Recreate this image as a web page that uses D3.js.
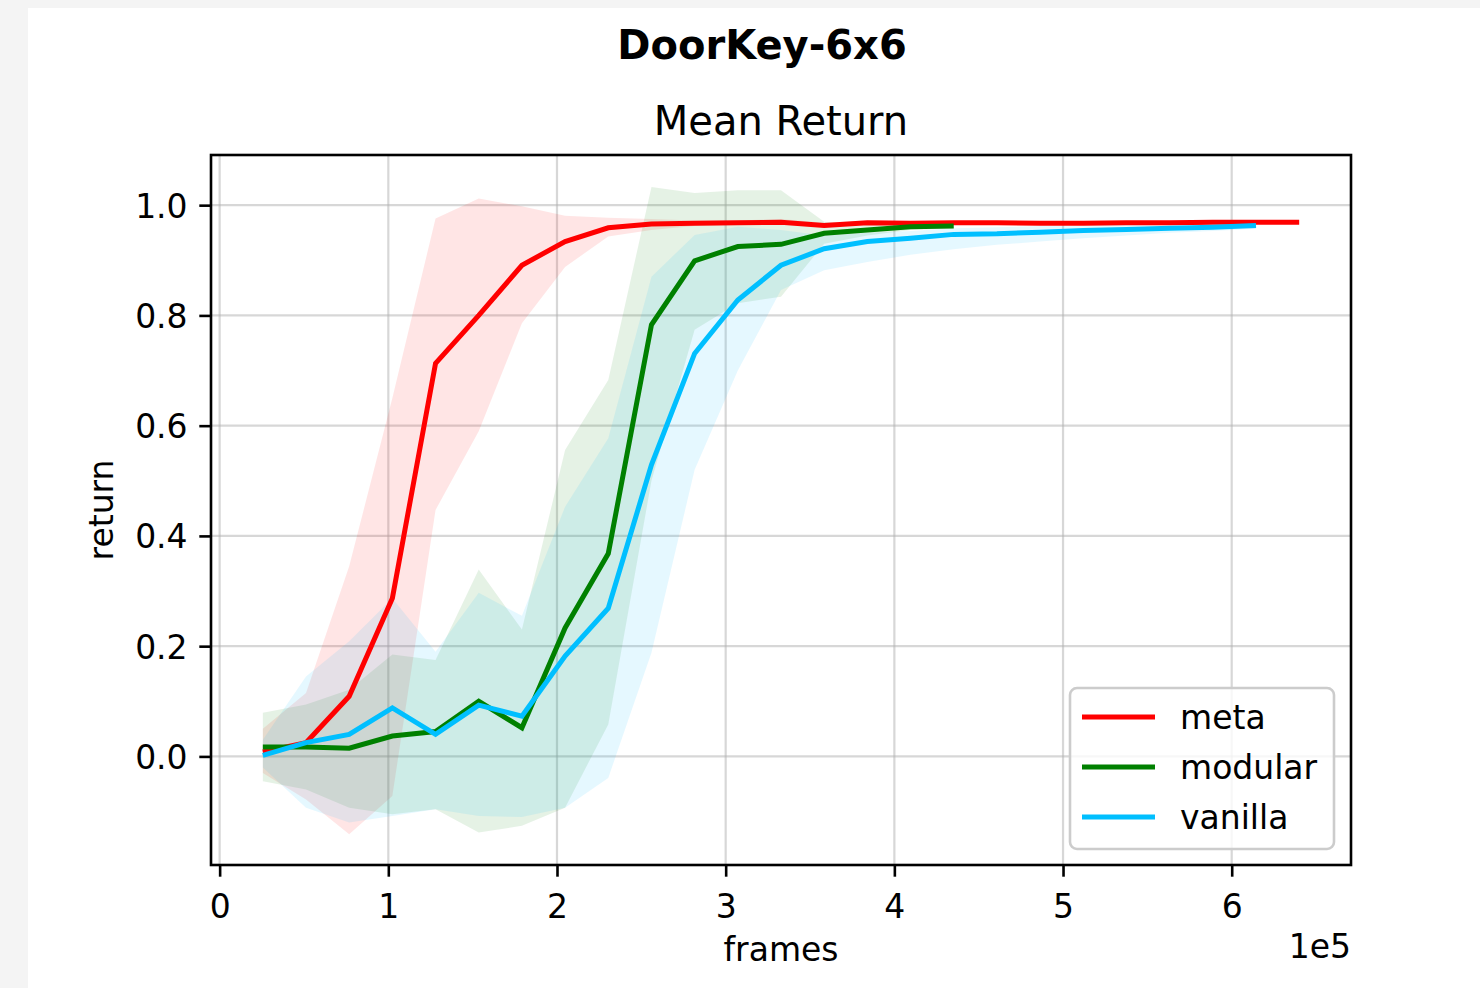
<!DOCTYPE html>
<html>
<head>
<meta charset="utf-8">
<script src="https://cdn.jsdelivr.net/npm/d3@7"></script>
<style>
  html, body { margin: 0; padding: 0; background: #f4f4f4; }
  svg { display: block; }
  text { font-family: "DejaVu Sans", sans-serif; fill: #000; }
</style>
</head>
<body>
<svg id="chart" width="1480" height="988"></svg>
<script>
// ---------- data ----------
const seriesNames = ["meta", "modular", "vanilla"];
const seriesColors = ["#ff0000", "#008000", "#00bfff"];
const frameStep = 25600;

const metaMean = [0.008, 0.025, 0.109, 0.287, 0.713, 0.800, 0.891, 0.934, 0.959, 0.966, 0.967, 0.968, 0.969, 0.963, 0.968, 0.967, 0.968, 0.968, 0.967, 0.967, 0.968, 0.968, 0.969, 0.969, 0.969];
const metaLower = [-0.030, -0.078, -0.141, -0.072, 0.447, 0.590, 0.786, 0.888, 0.943, 0.955, 0.962, 0.964, 0.965, 0.960, 0.965, 0.964, 0.965, 0.965, 0.964, 0.964, 0.965, 0.965, 0.966, 0.966, 0.966];
const metaUpper = [0.050, 0.115, 0.345, 0.650, 0.976, 1.012, 0.998, 0.981, 0.977, 0.975, 0.972, 0.972, 0.975, 0.968, 0.972, 0.971, 0.971, 0.971, 0.970, 0.970, 0.971, 0.971, 0.972, 0.972, 0.972];

const modularMean = [0.017, 0.017, 0.015, 0.037, 0.045, 0.100, 0.052, 0.233, 0.368, 0.783, 0.899, 0.925, 0.929, 0.949, 0.955, 0.961, 0.962];
const modularLower = [-0.045, -0.060, -0.093, -0.105, -0.096, -0.138, -0.126, -0.093, 0.058, 0.500, 0.774, 0.822, 0.834, 0.930, 0.945, 0.955, 0.958];
const modularUpper = [0.079, 0.094, 0.121, 0.185, 0.175, 0.339, 0.230, 0.556, 0.683, 1.033, 1.022, 1.027, 1.027, 0.970, 0.965, 0.966, 0.966];

const vanillaMean = [0.002, 0.025, 0.040, 0.088, 0.040, 0.093, 0.073, 0.182, 0.269, 0.529, 0.731, 0.828, 0.891, 0.921, 0.934, 0.940, 0.947, 0.948, 0.951, 0.954, 0.956, 0.958, 0.960, 0.963];
const vanillaLower = [-0.020, -0.093, -0.120, -0.108, -0.096, -0.108, -0.110, -0.093, -0.039, 0.188, 0.520, 0.700, 0.846, 0.882, 0.897, 0.910, 0.920, 0.928, 0.934, 0.940, 0.945, 0.950, 0.953, 0.957];
const vanillaUpper = [0.030, 0.145, 0.209, 0.287, 0.190, 0.297, 0.255, 0.453, 0.577, 0.870, 0.946, 0.961, 0.955, 0.945, 0.950, 0.953, 0.958, 0.960, 0.962, 0.963, 0.965, 0.966, 0.967, 0.969];

const xTicks = [0, 100000, 200000, 300000, 400000, 500000, 600000];
const xTickLabels = ["0", "1", "2", "3", "4", "5", "6"];
const yTicks = [0.0, 0.2, 0.4, 0.6, 0.8, 1.0];
const yTickLabels = ["0.0", "0.2", "0.4", "0.6", "0.8", "1.0"];

const seriesData = [
  [metaMean, metaLower, metaUpper],
  [modularMean, modularLower, modularUpper],
  [vanillaMean, vanillaLower, vanillaUpper]
].map(([m, lo, hi], si) => ({
  name: seriesNames[si],
  color: seriesColors[si],
  points: m.map((v, i) => ({ x: (i + 1) * frameStep, y: v, lo: lo[i], hi: hi[i] }))
}));

// ---------- layout ----------
const svg = d3.select("#chart");
const pL = 211, pR = 1351, pT = 155, pB = 865;

svg.append("rect").attr("x", 28).attr("y", 8).attr("width", 1452).attr("height", 980).attr("fill", "#ffffff");

const x = d3.scaleLinear().domain([-5120, 670720]).range([pL, pR]);
const y = d3.scaleLinear().domain([-0.197, 1.091]).range([pB, pT]);

// grid
const grid = svg.append("g");
grid.selectAll("line.gx").data(xTicks).enter().append("line")
  .attr("x1", d => x(d)).attr("x2", d => x(d)).attr("y1", pT).attr("y2", pB)
  .attr("stroke", "#b0b0b0").attr("stroke-opacity", 0.5).attr("stroke-width", 2.2);
grid.selectAll("line.gy").data(yTicks).enter().append("line")
  .attr("x1", pL).attr("x2", pR).attr("y1", d => y(d)).attr("y2", d => y(d))
  .attr("stroke", "#b0b0b0").attr("stroke-opacity", 0.5).attr("stroke-width", 2.2);

// bands and lines
const area = d3.area().x(d => x(d.x)).y0(d => y(d.lo)).y1(d => y(d.hi));
const line = d3.line().x(d => x(d.x)).y(d => y(d.y));
svg.append("clipPath").attr("id", "clipA").append("rect")
  .attr("x", pL).attr("y", pT).attr("width", pR - pL).attr("height", pB - pT);
const plot = svg.append("g").attr("clip-path", "url(#clipA)");
seriesData.forEach(s => {
  plot.append("path").datum(s.points).attr("d", area).attr("fill", s.color).attr("fill-opacity", 0.1).attr("stroke", "none");
});
seriesData.forEach(s => {
  plot.append("path").datum(s.points).attr("d", line).attr("fill", "none").attr("stroke", s.color)
    .attr("stroke-width", 5).attr("stroke-linejoin", "miter").attr("stroke-linecap", "butt");
});

// axes
const xAxis = d3.axisBottom(x).tickValues(xTicks).tickFormat((d, i) => xTickLabels[i]).tickSize(11.7).tickPadding(10);
const yAxis = d3.axisLeft(y).tickValues(yTicks).tickFormat((d, i) => yTickLabels[i]).tickSize(11.7).tickPadding(11.7);
const gx = svg.append("g").attr("transform", `translate(0,${pB})`).call(xAxis);
const gy = svg.append("g").attr("transform", `translate(${pL},0)`).call(yAxis);
[gx, gy].forEach(g => {
  g.select(".domain").remove();
  g.selectAll(".tick line").attr("stroke", "#000").attr("stroke-width", 2.6);
  g.selectAll(".tick text").attr("font-size", 33).attr("font-family", "DejaVu Sans").attr("fill", "#000");
});
gx.selectAll(".tick text").attr("dy", null).attr("y", 53);
gy.selectAll(".tick text").attr("dy", "0.36em");

// spines
svg.append("rect").attr("x", pL).attr("y", pT).attr("width", pR - pL).attr("height", pB - pT)
  .attr("fill", "none").attr("stroke", "#000").attr("stroke-width", 2.6);

// labels
svg.append("text").attr("x", 762).attr("y", 59).attr("text-anchor", "middle")
  .attr("font-size", 40).attr("font-weight", "bold").text("DoorKey-6x6");
svg.append("text").attr("x", (pL + pR) / 2).attr("y", 135).attr("text-anchor", "middle")
  .attr("font-size", 40).text("Mean Return");
svg.append("text").attr("x", (pL + pR) / 2).attr("y", 961).attr("text-anchor", "middle")
  .attr("font-size", 33).text("frames");
svg.append("text").attr("transform", `translate(113,${(pT + pB) / 2}) rotate(-90)`).attr("text-anchor", "middle")
  .attr("font-size", 33).text("return");
svg.append("text").attr("x", pR).attr("y", 958).attr("text-anchor", "end")
  .attr("font-size", 33).text("1e5");

// legend
const lg = svg.append("g");
lg.append("rect").attr("x", 1070).attr("y", 688).attr("width", 264).attr("height", 161).attr("rx", 7).attr("ry", 7)
  .attr("fill", "#fff").attr("fill-opacity", 0.8).attr("stroke", "#cccccc").attr("stroke-width", 2.6);
seriesData.forEach((s, i) => {
  const yy = 717 + i * 50;
  lg.append("line").attr("x1", 1082).attr("x2", 1155).attr("y1", yy).attr("y2", yy)
    .attr("stroke", s.color).attr("stroke-width", 5);
  lg.append("text").attr("x", 1180).attr("y", yy).attr("dy", "0.36em").attr("font-size", 33).text(s.name);
});
</script>
</body>
</html>
